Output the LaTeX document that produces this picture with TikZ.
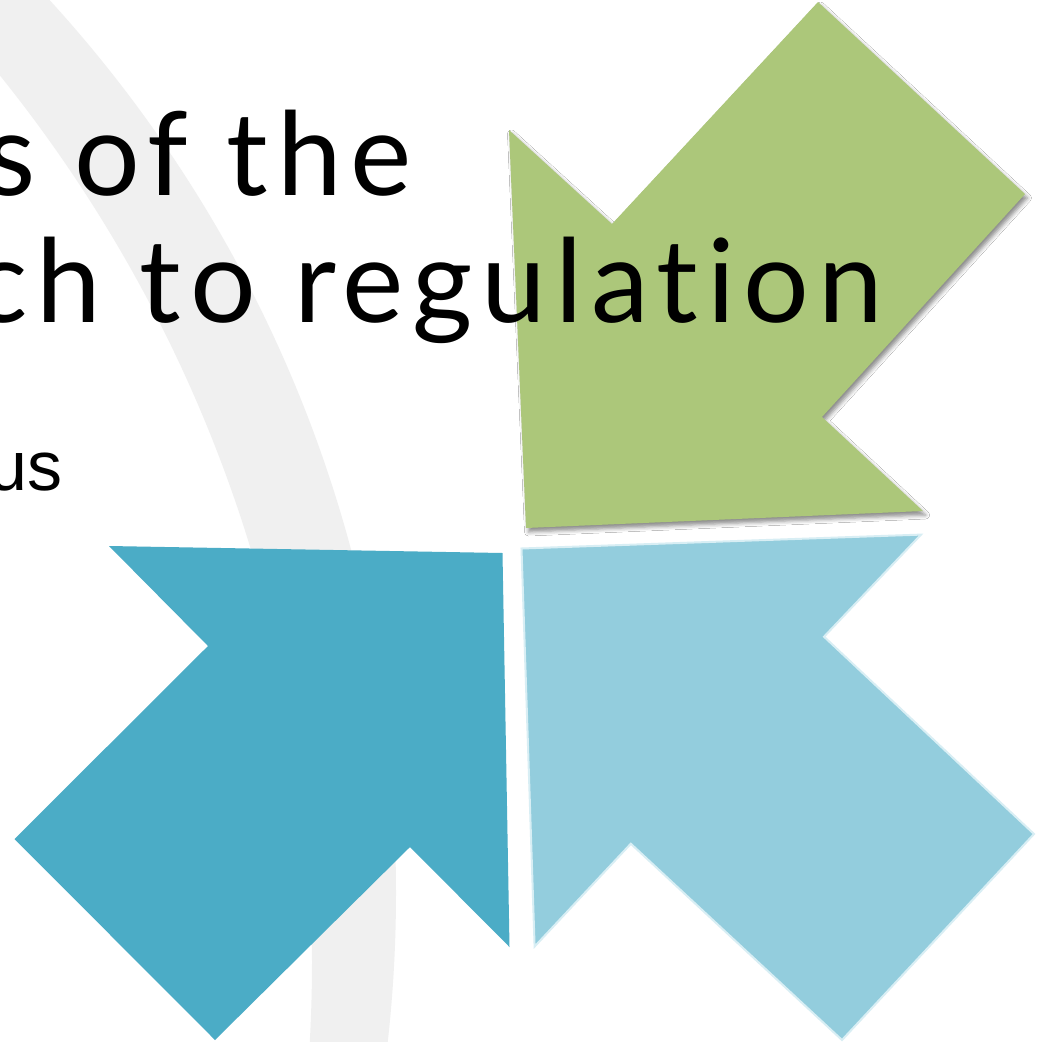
\documentclass[tikz,border=0pt]{standalone}
\usepackage{fontspec}
\setmainfont{Lato}
\newfontfamily\titlefont[LetterSpace=7.5,Ligatures={NoCommon,NoRare}]{Lato}
\newfontfamily\subfont{Liberation Sans}
\usetikzlibrary{shadows.blur}
\definecolor{bandgray}{HTML}{F0F0F0}
\definecolor{leafgreen}{HTML}{ACC77A}
\definecolor{arrowteal}{HTML}{4BACC6}
\definecolor{skyblue}{HTML}{93CDDD}
\definecolor{skyedge}{HTML}{D8EEF4}
\tikzset{
  titletext/.style={anchor=base east, inner sep=0pt, text=black, font=\titlefont\fontsize{116}{116}\selectfont},
  subtext/.style={anchor=base east, inner sep=0pt, text=black, font=\subfont\fontsize{70}{70}\selectfont},
  tealarrow/.style={fill=arrowteal},
  skyarrow/.style={fill=skyblue, draw=skyedge, line width=2pt, line join=miter},
  greenarrow/.style={fill=leafgreen, blur shadow={shadow xshift=2.5pt, shadow yshift=-4pt, shadow blur radius=4pt, shadow opacity=45}}
}
\begin{document}
\begin{tikzpicture}[x=1pt,y=-1pt]
\useasboundingbox (0,0) rectangle (1040,1042);
\clip (0,0) rectangle (1040,1042);
\fill[white] (0,0) rectangle (1040,1042);
% background band
\begin{scope}
  \clip (-928,893) circle[radius=1324pt];
  \fill[bandgray, even odd rule] (-10,-10) rectangle (1050,1052) (-1103,962) circle[radius=1415pt];
\end{scope}
% arrows
\fill[tealarrow] (109,546) -- (502.5,553) -- (509.5,947) -- (410,847) -- (215,1040) -- (14.5,839) -- (208,646) -- cycle;
\filldraw[skyarrow] (521.5,548.5) -- (921,534.6) -- (824,636.7) -- (1034,834) -- (842,1040) -- (630.8,843.7) -- (534.6,946.5) -- cycle;
\fill[greenarrow] (509,130) -- (612,224) -- (818,2) -- (1025,194) -- (822,417) -- (923,511) -- (526,528) -- cycle;
% texts
\node[titletext] (line1) at (412,195) {s of the};
\node[titletext] (line2) at (883,322) {ch to regulation};
\node[subtext] (sub) at (63,490) {us};
\end{tikzpicture}
\end{document}
